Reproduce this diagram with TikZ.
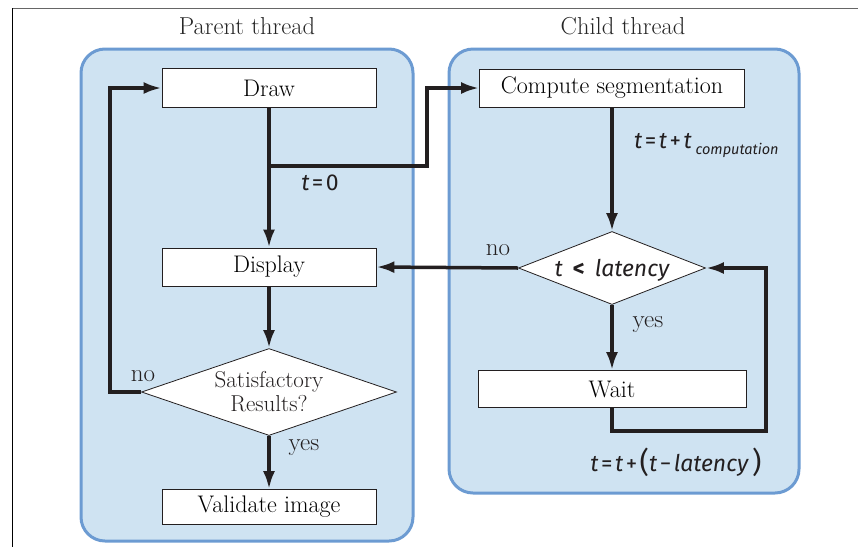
\documentclass[tikz,border=0pt]{standalone}
\usepackage{fontspec}
\newfontfamily\lbl{Fira Sans}
\usetikzlibrary{shapes.geometric,arrows.meta}
\definecolor{panelfill}{HTML}{CFE3F2}
\definecolor{paneldraw}{HTML}{6C9BD2}
\definecolor{ink}{HTML}{231F20}
\newcommand{\eqgap}{\hspace{2.5pt}}
\begin{document}
\begin{tikzpicture}[x=1pt,y=-1pt,
  panel/.style={draw=paneldraw, line width=3pt, fill=panelfill, rounded corners=24pt},
  proc/.style={draw=ink, line width=0.8pt, fill=white, inner sep=0pt, font=\fontsize{24}{26}\selectfont},
  dec/.style={diamond, draw=ink, line width=0.8pt, fill=white, inner sep=0pt},
  flow/.style={line width=3.5pt, draw=ink, -{Latex[length=18pt,width=12pt]}},
  ttl/.style={font=\fontsize{24.5}{26}\selectfont, text=black!85},
  yn/.style={font=\fontsize{25}{26}\selectfont, text=ink},
  eq/.style={font=\lbl\fontsize{23}{26}\selectfont, text=ink, inner sep=0pt}]
\useasboundingbox (0,0) rectangle (858,547);
\draw[black!60, line width=0.8pt] (12,8) -- (858,8);
\draw[black, line width=0.8pt] (12,8) -- (12,547);
% panels
\draw[panel] (81,49) rectangle (413,541);
\draw[panel] (449,49) rectangle (799,493);
\node[ttl] (tparent) at (247,26) {Parent thread};
\node[ttl] (tchild) at (623,26) {Child thread};
% parent thread
\node[proc, minimum width=214pt, minimum height=39pt] (draw) at (269,88) {Draw};
\node[proc, minimum width=214pt, minimum height=38pt] (display) at (269,267) {Display};
\node[dec, minimum width=255pt, minimum height=87pt] (sat) at (269,392) {};
\node[font=\fontsize{23}{24}\selectfont, align=center, text=ink] (sattxt) at (269,392) {Satisfactory\\Results?};
\node[proc, minimum width=214pt, minimum height=35pt] (valid) at (269,507) {Validate image};
% child thread
\node[proc, minimum width=265pt, minimum height=38pt] (comp) at (612,88) {Compute segmentation};
\node[dec, minimum width=187pt, minimum height=73pt] (lat) at (612,268) {};
\node[eq] (lattxt) at (612,270) {\itshape t\upshape\hspace{10pt}\textbf{<}\hspace{10pt}\itshape latency};
\node[proc, minimum width=268pt, minimum height=37pt] (wait) at (612,389) {Wait};
% coordinates
\coordinate (br) at (269,166);
\coordinate (brk) at (427,166);
\coordinate (n1) at (110,392);
\coordinate (w2) at (766,431);
% connectors
\draw[flow] (draw.south) -- (display.north);
\draw[flow] (br) -- (brk) |- (comp.west);
\draw[flow] (display.south) -- (sat.north);
\draw[flow] (sat.south) -- (valid.north);
\draw[flow] (sat.west) -- (n1) |- (draw.west);
\draw[flow] (comp.south) -- (lat.north);
\draw[flow] (lat.west) -- (display.east);
\draw[flow] (lat.south) -- (wait.north);
\draw[flow] (wait.south) |- (w2) |- (lat.east);
% labels
\node[eq] (t0) at (320,183) {\itshape t\upshape\eqgap=\eqgap0};
\node[eq, anchor=west] (tcomp) at (634,146) {\itshape t\upshape\eqgap=\eqgap\itshape t\upshape\eqgap+\eqgap\itshape t\,\raisebox{-6pt}{\fontsize{14.5}{16}\selectfont computation}};
\node[eq] (tlat) at (676,462) {\itshape t\upshape\eqgap=\eqgap\itshape t\upshape\eqgap+\eqgap{\fontsize{29}{30}\selectfont\raisebox{-1pt}{(}}\itshape t\upshape\eqgap−\eqgap\itshape latency\upshape\,{\fontsize{29}{30}\selectfont\raisebox{-1pt}{)}}};
\node[yn] (no1) at (498,250) {no};
\node[yn] (yes1) at (648,325) {yes};
\node[yn] (no2) at (143,376) {no};
\node[yn] (yes2) at (304,448) {yes};
\end{tikzpicture}
\end{document}
